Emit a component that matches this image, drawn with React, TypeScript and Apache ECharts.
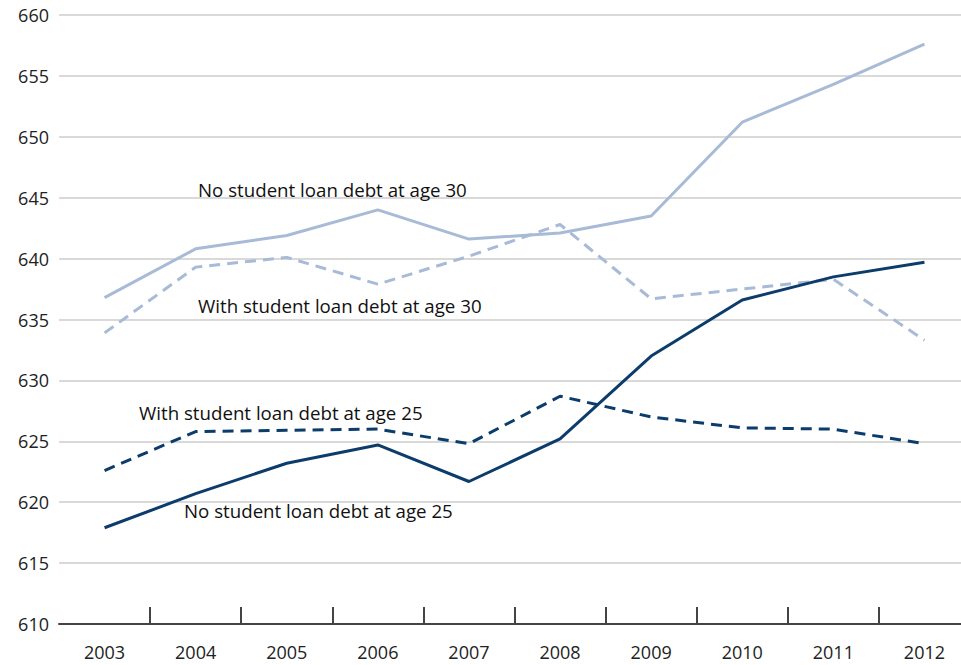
import React, { useEffect, useRef } from "react";
import * as echarts from "echarts";

const years = ["2003", "2004", "2005", "2006", "2007", "2008", "2009", "2010", "2011", "2012"];
const noDebt30 = [636.8, 640.8, 641.9, 644.0, 641.6, 642.1, 643.5, 651.2, 654.3, 657.6];
const withDebt30 = [633.9, 639.3, 640.1, 637.9, 640.2, 642.8, 636.7, 637.5, 638.3, 633.3];
const withDebt25 = [622.6, 625.8, 625.9, 626.0, 624.8, 628.7, 627.0, 626.1, 626.0, 624.8];
const noDebt25 = [617.9, 620.7, 623.2, 624.7, 621.7, 625.2, 632.0, 636.6, 638.5, 639.7];

const annotations = [
  { text: "No student loan debt at age 30", x: 198, y: 189 },
  { text: "With student loan debt at age 30", x: 198, y: 305 },
  { text: "With student loan debt at age 25", x: 139, y: 412 },
  { text: "No student loan debt at age 25", x: 184, y: 510 },
];

const DARK = "#0c3c6c";
const LIGHT = "#a8bbd6";
const FONT = "Open Sans";

export default function App() {
  const ref = useRef<HTMLDivElement>(null);
  useEffect(() => {
    if (!ref.current) return;
    const chart = echarts.init(ref.current, null, { renderer: "svg" });
    const line = (name: string, data: number[], color: string, dashed: boolean) => ({
      name,
      type: "line",
      data,
      symbol: "none",
      lineStyle: { color, width: 3, type: dashed ? [11, 7] : "solid" },
      z: dashed ? 3 : 4,
    });
    chart.setOption({
      animation: false,
      backgroundColor: "#ffffff",
      grid: { left: 59, right: 5, top: 15, bottom: 41 },
      xAxis: {
        type: "category",
        data: years,
        boundaryGap: true,
        axisLine: { show: true, lineStyle: { color: "#444", width: 2 } },
        axisTick: {
          show: true,
          inside: true,
          length: 17,
          lineStyle: { color: "#444", width: 2 },
          interval: (i: number) => i > 0,
        },
        axisLabel: { color: "#222", fontSize: 18, fontFamily: FONT, margin: 19, interval: 0 },
      },
      yAxis: {
        type: "value",
        min: 610,
        max: 660,
        interval: 5,
        axisLine: { show: false },
        axisTick: { show: false },
        axisLabel: { color: "#222", fontSize: 18, fontFamily: FONT, margin: 10 },
        splitLine: { lineStyle: { color: "#d9d9d9", width: 2 } },
      },
      series: [
        line("No student loan debt at age 30", noDebt30, LIGHT, false),
        line("With student loan debt at age 30", withDebt30, LIGHT, true),
        line("With student loan debt at age 25", withDebt25, DARK, true),
        line("No student loan debt at age 25", noDebt25, DARK, false),
      ],
      graphic: annotations.map((a) => ({
        type: "text",
        x: a.x,
        y: a.y,
        style: {
          text: a.text,
          fill: "#111",
          font: `18.7px "${FONT}"`,
          textVerticalAlign: "middle",
        },
        z: 10,
      })),
    });
    return () => chart.dispose();
  }, []);
  return (
    <div
      ref={ref}
      style={{ position: "absolute", left: 0, top: 0, width: 975, height: 665 }}
    />
  );
}
